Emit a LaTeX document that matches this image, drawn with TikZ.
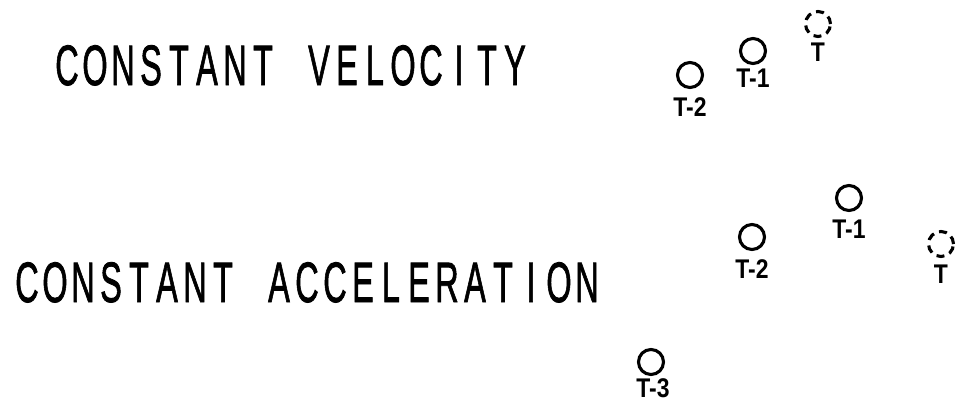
\documentclass[tikz,border=0pt]{standalone}
\usepackage{fontspec}
\usepackage{graphicx}
\newfontfamily\plotfont{Liberation Sans}
\newfontfamily\plotheavy{Liberation Sans}[FakeBold=1.6]
\newlength\monow
\setlength\monow{28pt}
\def\monostr#1{\monoloop#1\monoend}
\def\monoloop#1{\ifx#1\monoend\else\ifx#1.\hspace*{\monow}\else\makebox[\monow]{\scalebox{0.57}[1]{#1}}\fi\expandafter\monoloop\fi}
\newcommand\tlab[1]{\scalebox{0.85}[1]{#1}}
\tikzset{
  title/.style={anchor=base west, inner sep=0pt, outer sep=0pt,
    font=\plotheavy\fontsize{57}{60}\selectfont},
  ballpos/.style={circle, draw=black, line width=3.1pt, minimum size=25pt, inner sep=0pt},
  ballpred/.style={ballpos, dash pattern=on 8pt off 5.5pt},
  balllabel/.style={inner sep=0pt, font=\plotfont\bfseries\fontsize{27}{28}\selectfont},
}
\begin{document}
\begin{tikzpicture}[x=1pt,y=-1pt]
\useasboundingbox[fill=white] (0,0) rectangle (959,404);
% titles
\node[title] (cv) at (53,85) {\monostr{CONSTANT.VELOCITY}};
\node[title] (ca) at (13,302) {\monostr{CONSTANT.ACCELERATION}};
% constant velocity
\node[ballpos] (v2) at (690,75) {};
\node[balllabel] (v2l) at (690,107) {\tlab{T-2}};
\node[ballpos] (v1) at (753,51) {};
\node[balllabel] (v1l) at (753,78) {\tlab{T-1}};
\node[ballpred] (v0) at (818,24) {};
\node[balllabel] (v0l) at (818,52) {\tlab{T}};
% constant acceleration
\node[ballpos] (a3) at (651,362) {};
\node[balllabel] (a3l) at (653,388) {\tlab{T-3}};
\node[ballpos] (a2) at (752,237) {};
\node[balllabel] (a2l) at (752,269) {\tlab{T-2}};
\node[ballpos] (a1) at (849,198) {};
\node[balllabel] (a1l) at (849,229) {\tlab{T-1}};
\node[ballpred] (a0) at (941,244) {};
\node[balllabel] (a0l) at (941,274) {\tlab{T}};
\end{tikzpicture}
\end{document}
